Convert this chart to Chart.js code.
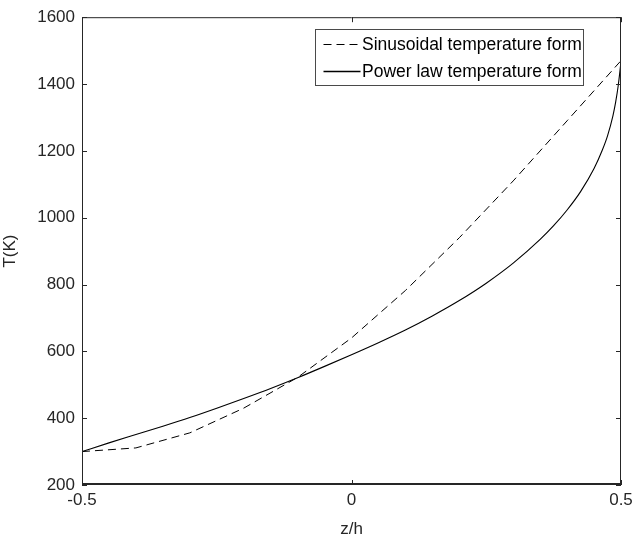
<!DOCTYPE html>
<html>
<head>
<meta charset="utf-8">
<script src="https://cdn.jsdelivr.net/npm/chart.js@4.4.1/dist/chart.umd.min.js"></script>
<style>
  html, body { margin: 0; padding: 0; background: #ffffff; }
  #wrap { width: 643px; height: 540px; position: relative; }
</style>
</head>
<body>
<div id="wrap"><canvas id="c" width="643" height="540"></canvas></div>
<script>
// Temperature distribution through the thickness, z/h from -0.5 to 0.5
const sinZ = [-0.5, -0.4, -0.3, -0.2, -0.1, 0, 0.1, 0.2, 0.3, 0.4, 0.5];
const sinT = [300, 311, 356, 430, 522, 640, 782, 940, 1110, 1290, 1470];

const powZ = [-0.5, -0.45, -0.4, -0.35, -0.3, -0.25, -0.2, -0.15, -0.1, -0.05, 0,
              0.05, 0.1, 0.15, 0.2, 0.25, 0.3, 0.35, 0.375, 0.4, 0.425, 0.45, 0.465,
              0.475, 0.485, 0.49, 0.495, 0.5];
const powT = [300, 326, 351, 376, 402, 430, 459, 489, 521, 555, 590,
              626, 664, 706, 752, 804, 864, 935, 976, 1023, 1078, 1147, 1201,
              1245, 1305, 1345, 1397, 1467];

const xTicks = [-0.5, 0, 0.5];
const yTicks = [200, 400, 600, 800, 1000, 1200, 1400, 1600];

const seriesNames = ['Sinusoidal temperature form', 'Power law temperature form'];

const FONT = 'Liberation Sans, Arial, sans-serif';
const TXT = '#262626';

const toPoints = (xs, ys) => xs.map((x, i) => ({ x: x, y: ys[i] }));

// Box, inward ticks on all four sides, and a boxed legend in the upper right
const framePlugin = {
  id: 'frame',
  afterDatasetsDraw(chart) {
    const { ctx, chartArea: a, scales } = chart;
    const xs = scales.x, ys = scales.y;
    ctx.save();
    ctx.strokeStyle = '#262626';
    ctx.lineWidth = 1;
    ctx.beginPath();
    ctx.moveTo(a.left + 0.5, a.bottom);
    ctx.lineTo(a.left + 0.5, a.top + 0.5);
    ctx.lineTo(a.right - 0.5, a.top + 0.5);
    ctx.lineTo(a.right - 0.5, a.bottom);
    ctx.stroke();
    ctx.lineWidth = 2;
    ctx.beginPath();
    ctx.moveTo(a.left, a.bottom - 1);
    ctx.lineTo(a.right, a.bottom - 1);
    ctx.stroke();
    ctx.lineWidth = 1;
    const tl = 5;
    ctx.beginPath();
    xTicks.forEach(v => {
      const px = Math.round(xs.getPixelForValue(v)) + 0.5;
      ctx.moveTo(px, a.bottom); ctx.lineTo(px, a.bottom - tl);
      ctx.moveTo(px, a.top); ctx.lineTo(px, a.top + tl);
    });
    yTicks.forEach(v => {
      const py = Math.round(ys.getPixelForValue(v)) + 0.5;
      ctx.moveTo(a.left, py); ctx.lineTo(a.left + tl, py);
      ctx.moveTo(a.right, py); ctx.lineTo(a.right - tl, py);
    });
    ctx.stroke();

    // legend
    const bx = 315.5, by = 29.5, bw = 268, bh = 56;
    ctx.fillStyle = '#ffffff';
    ctx.fillRect(bx, by, bw, bh);
    ctx.strokeStyle = '#4a4a4a';
    ctx.lineWidth = 1;
    ctx.strokeRect(bx, by, bw, bh);
    ctx.font = '17.5px ' + FONT;
    ctx.textBaseline = 'middle';
    ctx.fillStyle = '#000000';
    chart.data.datasets.forEach((ds, i) => {
      const cy = Math.round(by + 14.5 + i * 26.5) + 0.5;
      ctx.beginPath();
      ctx.strokeStyle = ds.borderColor;
      ctx.lineWidth = i === 0 ? 1 : 1.6;
      ctx.setLineDash(ds.borderDash || []);
      ctx.moveTo(bx + 8, cy);
      ctx.lineTo(bx + 45, cy);
      ctx.stroke();
      ctx.setLineDash([]);
      ctx.fillText(ds.label, bx + 46.5, cy + 1);
    });
    ctx.restore();
  }
};

new Chart(document.getElementById('c'), {
  type: 'scatter',
  data: {
    datasets: [
      {
        label: seriesNames[0],
        data: toPoints(sinZ, sinT),
        showLine: true,
        borderColor: '#000000',
        borderWidth: 1,
        borderDash: [8, 5],
        pointRadius: 0,
        tension: 0,
        fill: false
      },
      {
        label: seriesNames[1],
        data: toPoints(powZ, powT),
        showLine: true,
        borderColor: '#000000',
        borderWidth: 1.1,
        pointRadius: 0,
        cubicInterpolationMode: 'monotone',
        fill: false
      }
    ]
  },
  options: {
    responsive: false,
    animation: false,
    layout: { padding: { left: 0, right: 22, top: 14, bottom: 0 } },
    plugins: { legend: { display: false }, tooltip: { enabled: false } },
    scales: {
      x: {
        type: 'linear',
        min: -0.5, max: 0.5,
        afterBuildTicks: s => { s.ticks = xTicks.map(v => ({ value: v })); },
        afterFit: s => { s.height = 55; },
        grid: { display: false, drawTicks: false },
        border: { display: false },
        ticks: {
          color: TXT, font: { family: FONT, size: 17 }, padding: 5,
          maxRotation: 0,
          callback: v => (v === 0 ? '0' : String(v))
        },
        title: {
          display: true, text: 'z/h', color: TXT,
          font: { family: FONT, size: 17 }, padding: { top: 9, bottom: 0 }
        }
      },
      y: {
        type: 'linear',
        min: 200, max: 1600,
        afterBuildTicks: s => { s.ticks = yTicks.map(v => ({ value: v })); },
        afterFit: s => { s.width = 82; },
        grid: { display: false, drawTicks: false },
        border: { display: false },
        ticks: {
          color: TXT, font: { family: FONT, size: 17 }, padding: 7,
          callback: v => String(v)
        },
        title: {
          display: true, text: 'T(K)', color: TXT,
          font: { family: FONT, size: 17 }, padding: { top: 0, bottom: 0 }
        }
      }
    }
  },
  plugins: [framePlugin]
});
</script>
</body>
</html>
